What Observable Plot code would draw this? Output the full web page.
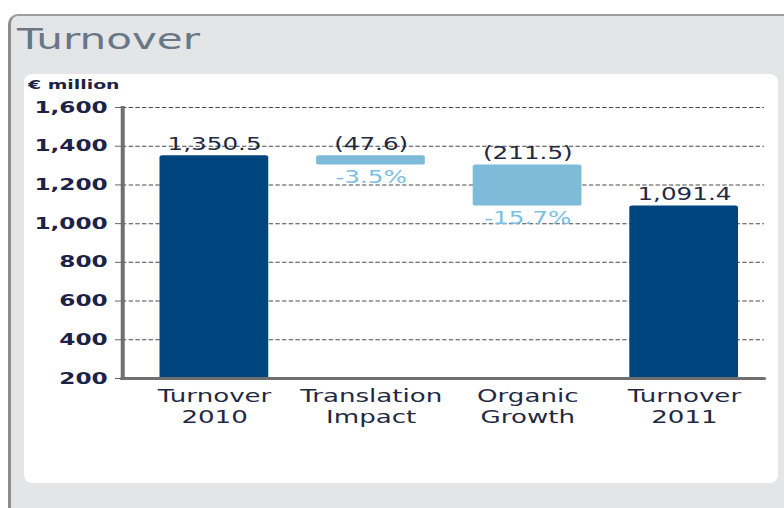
<!DOCTYPE html>
<html>
<head>
<meta charset="utf-8">
<script src="https://cdn.jsdelivr.net/npm/d3@7"></script>
<script src="https://cdn.jsdelivr.net/npm/@observablehq/plot@0.6"></script>
<style>
  html, body { margin: 0; padding: 0; }
  body { width: 784px; height: 508px; position: relative; overflow: hidden; background: #ffffff; font-family: "DejaVu Sans", sans-serif; }
  #outer { position: absolute; left: 8px; top: 14px; width: 800px; height: 520px; background: #e4e5e6;
           border-left: 3px solid #8e8e8e; border-top: 2px solid #9c9c9c; border-top-left-radius: 10px; }
  #inner { position: absolute; left: 24px; top: 74px; width: 754px; height: 409px; background: #ffffff; border-radius: 8px; }
  #title { position: absolute; left: 17px; top: 25px; font-size: 29px; line-height: 1; color: #687686;
           transform: scaleX(1.45); transform-origin: 0 0; white-space: nowrap; }
  #unit { position: absolute; left: 28px; top: 78px; font-size: 13px; line-height: 1; font-weight: bold; color: #1d2346;
          transform: scaleX(1.45); transform-origin: 0 0; white-space: nowrap; }
  #chart { position: absolute; left: 0; top: 0; transform: scaleX(1.45); transform-origin: 0 0; }
</style>
</head>
<body>
<div id="outer"></div>
<div id="inner"></div>
<div id="title">Turnover</div>
<div id="unit">€ million</div>
<div id="chart"></div>
<script>
// ---- data ----
const categories = ["Turnover 2010", "Translation Impact", "Organic Growth", "Turnover 2011"];
const kinds = ["total", "delta", "delta", "total"];
const values = [1350.5, -47.6, -211.5, 1091.4];
const pctLabels = ["", "-3.5%", "-15.7%", ""];
const yTicks = [200, 400, 600, 800, 1000, 1200, 1400, 1600];

// ---- build waterfall rows ----
const fmt = d3.format(",.1f");
let running = 0;
const rows = categories.map((cat, i) => {
  const v = values[i];
  let lo, hi;
  if (kinds[i] === "total") { lo = 0; hi = v; running = v; }
  else { hi = running; lo = running + v; running = lo; }
  return {
    cat, kind: kinds[i], lo, hi,
    top: Math.max(lo, hi), bottom: Math.min(lo, hi),
    label: kinds[i] === "total" ? fmt(v) : "(" + fmt(-v) + ")",
    pct: pctLabels[i]
  };
});

const s = 1.45; // horizontal stretch of the reference
const dark = "#00457e", light = "#7dbbd9";

const chart = Plot.plot({
  width: 784 / s,
  height: 508,
  marginLeft: 122 / s,
  marginRight: 20 / s,
  marginTop: 107,
  marginBottom: 130,
  x: { domain: categories, range: [132 / s, 764 / s], paddingInner: 0.31, paddingOuter: 0.155, label: null },
  y: { domain: [200, 1600], range: [378, 107], label: null },
  style: { background: "transparent", fontFamily: "DejaVu Sans, sans-serif", overflow: "visible" },
  marks: [
    Plot.ruleY(yTicks.slice(1), { stroke: "#4a4a4a", strokeWidth: 1, strokeDasharray: "3,1.6" }),
    Plot.barY(rows.filter(d => d.kind === "total"), { x: "cat", y1: "lo", y2: "hi", fill: dark, rx: 2, clip: true }),
    Plot.barY(rows.filter(d => d.kind === "delta"), { x: "cat", y1: "lo", y2: "hi", fill: light, rx: 2, clip: true }),
    Plot.frame({ anchor: "left", stroke: "#707070", strokeWidth: 4 / s }),
    Plot.ruleY([200], { stroke: "#707070", strokeWidth: 3, strokeLinecap: "round" }),
    Plot.axisY({ ticks: yTicks, tickFormat: d3.format(","), tickSize: 7 / s, tickPadding: 8 / s, label: null,
                 fontSize: 16, fontWeight: "bold", fill: "#1d2346", stroke: "#666666" }),
    Plot.axisX({ tickSize: 0, tickPadding: 9, fontSize: 18, fill: "#1f2a44", lineHeight: 1.17, label: null,
                 tickFormat: d => d.replace(" ", "\n") }),
    Plot.text(rows, { x: "cat", y: "top", text: "label", lineAnchor: "bottom", dy: -6, fontSize: 17, fill: "#1f2a44" }),
    Plot.text(rows.filter(d => d.pct), { x: "cat", y: "bottom", text: "pct", lineAnchor: "top", dy: 6, fontSize: 17, fill: "#7dbfe2" })
  ]
});
document.getElementById("chart").appendChild(chart);
</script>
</body>
</html>
